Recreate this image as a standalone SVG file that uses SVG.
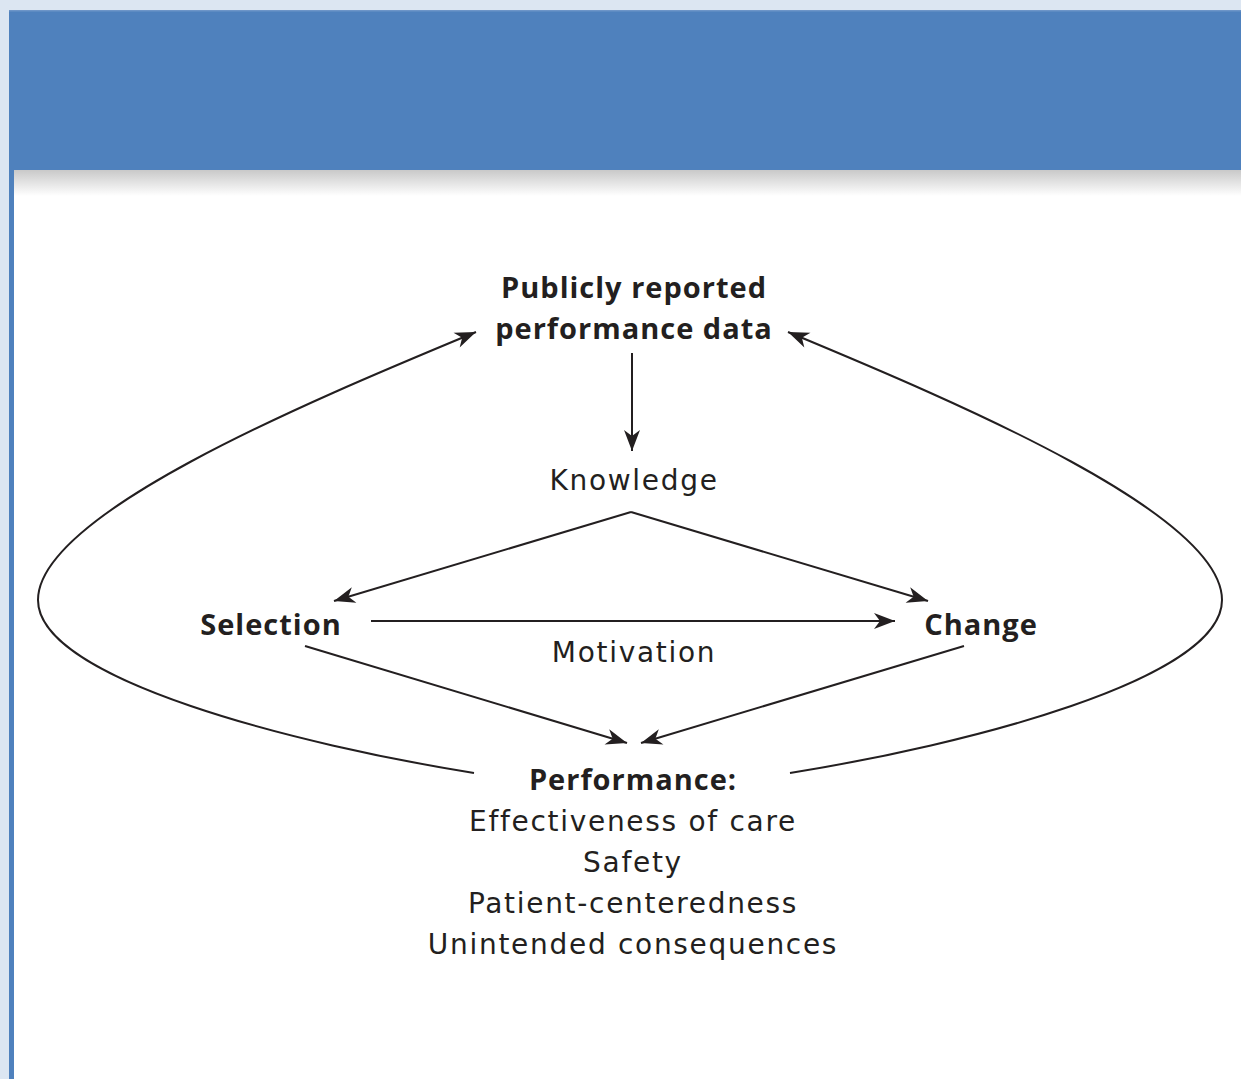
<svg xmlns="http://www.w3.org/2000/svg" width="1241" height="1079" viewBox="0 0 1241 1079">
  <defs>
    <linearGradient id="shadow" x1="0" y1="0" x2="0" y2="1">
      <stop offset="0" stop-color="#c9c9c9"/>
      <stop offset="1" stop-color="#ffffff"/>
    </linearGradient>
    <marker id="arr" viewBox="-22 -9 23 18" markerWidth="23" markerHeight="18" refX="0" refY="0" orient="auto" markerUnits="userSpaceOnUse">
      <path d="M0,0 L-21,-8 L-15,0 L-21,8 Z" fill="#231f20"/>
    </marker>
    <style>
      .t { font-family: "DejaVu Sans", "Noto Sans", sans-serif; font-size: 28px; letter-spacing: 1.7px; fill: #231f20; text-anchor: middle; }
      .b { font-family: "Open Sans", "Noto Sans", sans-serif; font-weight: bold; font-size: 29px; letter-spacing: 1px; }
      .c { fill: none; stroke: #231f20; stroke-width: 2; }
      .a { marker-end: url(#arr); }
    </style>
  </defs>
  <rect x="0" y="0" width="1241" height="1079" fill="#dce6f2"/>
  <rect x="9" y="10" width="1232" height="160" fill="#4f81bd"/>
  <rect x="9" y="10" width="1232" height="1.5" fill="#6d95c8"/>
  <rect x="9" y="170" width="5" height="909" fill="#4f81bd"/>
  <rect x="14" y="170" width="1227" height="909" fill="#ffffff"/>
  <rect x="14" y="170" width="1227" height="26" fill="url(#shadow)"/>

  <g id="connectors">
    <line class="c a" x1="632" y1="353" x2="632" y2="451"/>
    <line class="c a" x1="631" y1="512" x2="334" y2="601"/>
    <line class="c a" x1="631" y1="512" x2="928" y2="601"/>
    <line class="c a" x1="371" y1="621" x2="895" y2="621"/>
    <line class="c a" x1="305" y1="646" x2="627" y2="743"/>
    <line class="c a" x1="964" y1="646" x2="641" y2="743"/>
    <path class="c a" d="M474,773 C300,745 38,680 38,600 C38,515 300,405 476,332"/>
    <path class="c a" d="M790,773 C964,745 1222,680 1222,600 C1222,515 964,405 788,332"/>
  </g>

  <g id="node-data">
    <text class="t b" x="634" y="298">Publicly reported</text>
    <text class="t b" x="634" y="339">performance data</text>
  </g>
  <g id="node-knowledge">
    <text class="t" x="634" y="490">Knowledge</text>
  </g>
  <g id="node-selection">
    <text class="t b" x="271" y="635">Selection</text>
  </g>
  <g id="node-change">
    <text class="t b" x="981" y="635">Change</text>
  </g>
  <g id="label-motivation">
    <text class="t" x="634" y="662">Motivation</text>
  </g>
  <g id="node-performance">
    <text class="t b" x="633" y="790">Performance:</text>
    <text class="t" x="633" y="831">Effectiveness of care</text>
    <text class="t" x="633" y="872">Safety</text>
    <text class="t" x="633" y="913">Patient-centeredness</text>
    <text class="t" x="633" y="954">Unintended consequences</text>
  </g>
</svg>
